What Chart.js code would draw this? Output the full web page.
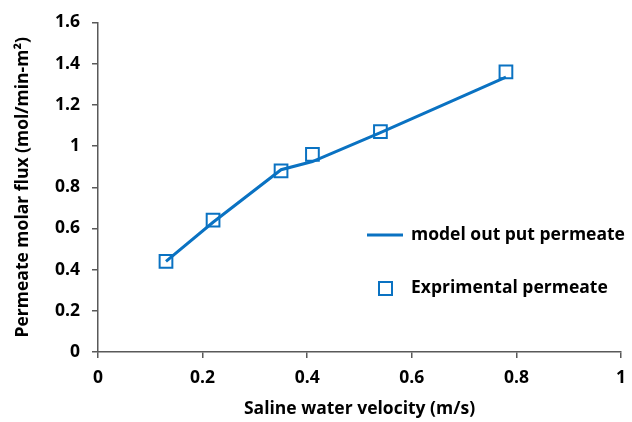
<!DOCTYPE html>
<html>
<head>
<meta charset="utf-8">
<script src="https://cdn.jsdelivr.net/npm/chart.js@4.4.1/dist/chart.umd.min.js"></script>
<style>
  html, body { margin: 0; padding: 0; background: #fff; }
  #wrap { width: 632px; height: 422px; position: relative; }
</style>
</head>
<body>
<div id="wrap"><canvas id="myChart" width="632" height="422"></canvas></div>
<script>
const velocity = [0.13, 0.22, 0.35, 0.41, 0.54, 0.78];
const modelFlux = [0.44, 0.63, 0.885, 0.925, 1.065, 1.335];
const expFlux = [0.44, 0.64, 0.88, 0.96, 1.07, 1.36];
const seriesNames = ['model out put permeate', 'Exprimental permeate'];

const blue = '#0A72C2';
const axisColor = '#595959';
const fontStack = '"Open Sans", Lato, sans-serif';
const fontSize = 17.5;
const tickFmt = v => String(+v.toFixed(1));

// legend drawn inside the plot, like the original
const legendBox = {
  id: 'legendBox',
  afterDraw(chart) {
    const c = chart.ctx;
    c.save();
    c.font = 'bold 17.5px ' + fontStack;
    c.fillStyle = '#000';
    c.textBaseline = 'middle';
    c.strokeStyle = blue;
    c.lineWidth = 3;
    c.beginPath();
    c.moveTo(367, 235);
    c.lineTo(403, 235);
    c.stroke();
    c.fillText(seriesNames[0], 411, 235);
    c.lineWidth = 2;
    c.strokeRect(379, 282, 13, 13);
    c.fillText(seriesNames[1], 411, 288);
    c.restore();
  }
};

const ctx = document.getElementById('myChart').getContext('2d');
const myChart = new Chart(ctx, {
    type: 'scatter',
    data: {
        datasets: [{
            label: seriesNames[0],
            data: velocity.map((v, i) => ({x: v, y: modelFlux[i]})),
            showLine: true,
            borderColor: blue,
            borderWidth: 3,
            pointRadius: 0,
            order: 2
        }, {
            label: seriesNames[1],
            data: velocity.map((v, i) => ({x: v, y: expFlux[i]})),
            showLine: false,
            pointStyle: 'rect',
            pointRadius: 9,
            pointBorderWidth: 2,
            borderColor: blue,
            backgroundColor: 'rgba(0,0,0,0)',
            order: 1
        }]
    },
    options: {
        responsive: false,
        animation: false,
        layout: { padding: { top: 20, right: 0, left: 0, bottom: 0 } },
        plugins: {
            legend: { display: false },
            tooltip: { enabled: false }
        },
        scales: {
            x: {
                type: 'linear',
                min: 0,
                max: 1,
                ticks: { stepSize: 0.2, color: '#000', font: { family: fontStack, size: fontSize, weight: 'bold' }, padding: 10, callback: tickFmt },
                grid: { drawOnChartArea: false, tickLength: 6, color: axisColor, lineWidth: 1.5 },
                border: { color: axisColor, width: 1.5 },
                title: { display: true, text: 'Saline water velocity (m/s)', color: '#000', font: { family: fontStack, size: fontSize, weight: 'bold' }, padding: { top: 4, bottom: 2 } },
                afterFit(scale) { scale.height = 70; scale.paddingRight = 4; }
            },
            y: {
                min: 0,
                max: 1.6,
                ticks: { stepSize: 0.2, color: '#000', font: { family: fontStack, size: fontSize, weight: 'bold' }, padding: 12, callback: tickFmt },
                grid: { drawOnChartArea: false, tickLength: 6, color: axisColor, lineWidth: 1.5 },
                border: { color: axisColor, width: 1.5 },
                title: { display: true, text: 'Permeate molar flux (mol/min-m²)', color: '#000', font: { family: fontStack, size: fontSize, weight: 'bold' }, padding: { top: 13, bottom: 4 } },
                afterFit(scale) { scale.width = 98; }
            }
        }
    },
    plugins: [legendBox]
});
</script>
</body>
</html>
